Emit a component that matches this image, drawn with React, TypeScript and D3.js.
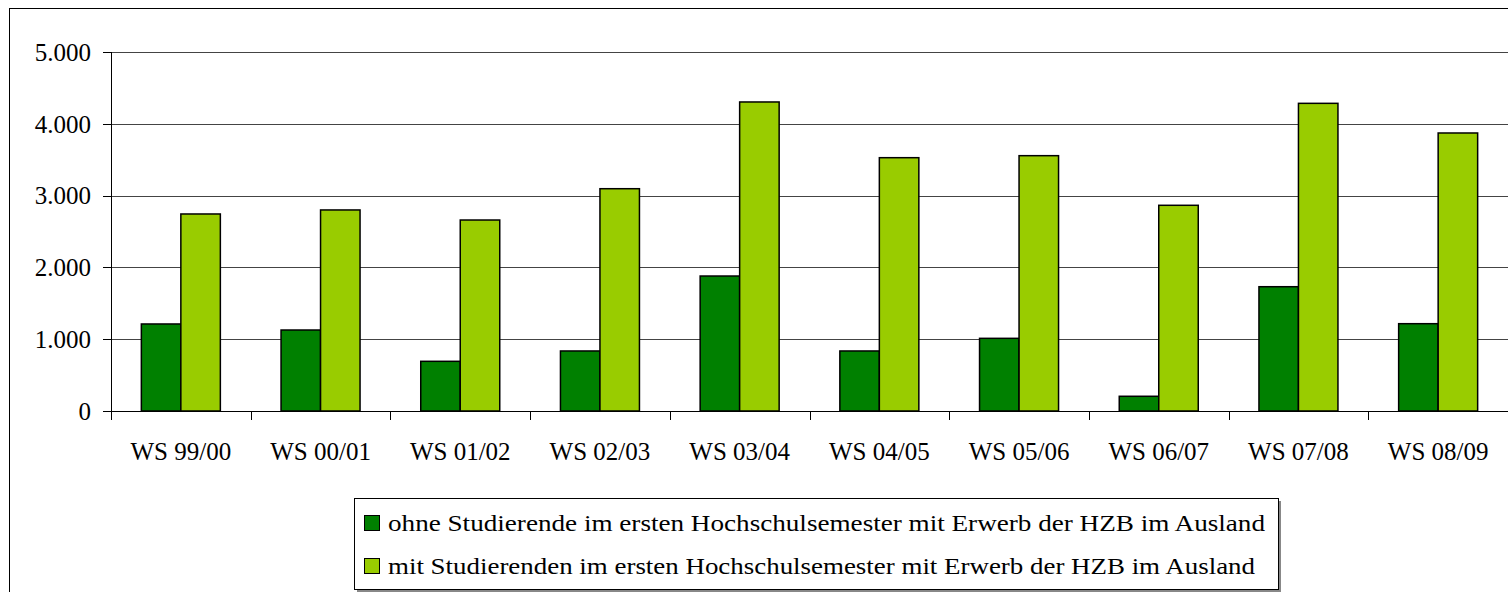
import * as d3 from "d3";

const categories = [
  "WS 99/00",
  "WS 00/01",
  "WS 01/02",
  "WS 02/03",
  "WS 03/04",
  "WS 04/05",
  "WS 05/06",
  "WS 06/07",
  "WS 07/08",
  "WS 08/09",
];

const ohneValues = [1212, 1128, 692, 836, 1880, 836, 1012, 205, 1731, 1216];
const mitValues = [2744, 2800, 2660, 3096, 4304, 3528, 3556, 2865, 4285, 3872];

const seriesNames = [
  "ohne Studierende im ersten Hochschulsemester mit Erwerb der HZB im Ausland",
  "mit Studierenden im ersten Hochschulsemester mit Erwerb der HZB im Ausland",
];
const seriesColors = ["#008000", "#99CC00"];

const yTicks = [0, 1000, 2000, 3000, 4000, 5000];

const W = 1508;
const H = 592;
const plotLeft = 111;
const plotRight = 1508;
const plotTop = 52;
const plotBottom = 411;

const fmt = (v: number) => d3.format(",")(v).replace(/,/g, ".");

export default function App() {
  const x = d3
    .scaleBand<string>()
    .domain(categories)
    .range([plotLeft, plotRight])
    .paddingInner(0.4345)
    .paddingOuter(0.21725);
  const xs = d3.scaleBand<number>().domain([0, 1]).range([0, x.bandwidth()]);
  const y = d3.scaleLinear().domain([0, 5000]).range([plotBottom, plotTop]);

  const step = x.step();
  const boundaries = d3.range(categories.length + 1).map((i) => plotLeft + i * step);
  const series = [ohneValues, mitValues];
  // legend text widths as in the reference
  const legendWidths = [877, 867];

  const font = "'Liberation Serif', 'Times New Roman', serif";

  return (
    <svg
      width={W}
      height={H}
      style={{ position: "absolute", left: 0, top: 0, background: "#fff", fontFamily: font }}
    >
      <rect x={9.5} y={8.5} width={W + 10} height={H + 10} fill="#fff" stroke="#000" />

      {/* gridlines */}
      <g stroke="#444" strokeWidth={1}>
        {yTicks.map((t) => (
          <line key={t} x1={plotLeft} x2={plotRight} y1={Math.round(y(t)) + 0.5} y2={Math.round(y(t)) + 0.5} />
        ))}
      </g>

      {/* y axis */}
      <g stroke="#000">
        <line x1={plotLeft + 0.5} x2={plotLeft + 0.5} y1={plotTop} y2={plotBottom} />
        {yTicks.map((t) => (
          <line key={t} x1={plotLeft - 8} x2={plotLeft} y1={Math.round(y(t)) + 0.5} y2={Math.round(y(t)) + 0.5} />
        ))}
      </g>
      <g fontSize={25} textAnchor="end">
        {yTicks.map((t) => (
          <text key={t} x={91} y={y(t)} dy="0.35em">
            {fmt(t)}
          </text>
        ))}
      </g>

      {/* bars */}
      {categories.map((c, i) => (
        <g key={c} transform={`translate(${x(c)},0)`}>
          {series.map((vals, s) => (
            <rect
              key={s}
              x={xs(s)}
              y={y(vals[i])}
              width={xs.bandwidth()}
              height={plotBottom - y(vals[i])}
              fill={seriesColors[s]}
              stroke="#000"
              strokeWidth={1.5}
            />
          ))}
        </g>
      ))}

      {/* x axis */}
      <g stroke="#000">
        <line x1={plotLeft} x2={plotRight} y1={plotBottom + 0.5} y2={plotBottom + 0.5} />
        {boundaries.map((b, i) => (
          <line key={i} x1={Math.round(b) + 0.5} x2={Math.round(b) + 0.5} y1={plotBottom} y2={plotBottom + 9} />
        ))}
      </g>
      <g fontSize={25} textAnchor="middle">
        {categories.map((c) => (
          <text key={c} x={(x(c) ?? 0) + x.bandwidth() / 2} y={460}>
            {c}
          </text>
        ))}
      </g>

      {/* legend */}
      <rect x={357} y={501} width={924} height={91} fill="#888" />
      <rect x={354.5} y={498.5} width={924} height={91} fill="#fff" stroke="#000" />
      {seriesNames.map((name, i) => (
        <g key={name} transform={`translate(0,${i * 43})`}>
          <rect x={364.5} y={515.5} width={15} height={15} fill={seriesColors[i]} stroke="#000" strokeWidth={1} />
          <text x={388} y={531} fontSize={24} textLength={legendWidths[i]} lengthAdjust="spacingAndGlyphs">
            {name}
          </text>
        </g>
      ))}
    </svg>
  );
}
